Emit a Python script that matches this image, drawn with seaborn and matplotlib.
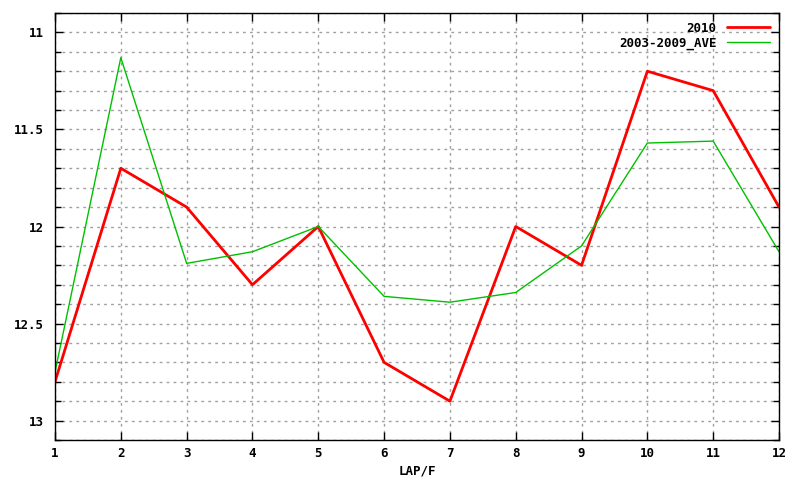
import matplotlib
matplotlib.use("Agg")
import matplotlib.pyplot as plt
from matplotlib.ticker import MultipleLocator
import seaborn as sns
import pandas as pd

laps = [1, 2, 3, 4, 5, 6, 7, 8, 9, 10, 11, 12]
y2010 = [12.8, 11.7, 11.9, 12.3, 12.0, 12.7, 12.9, 12.0, 12.2, 11.2, 11.3, 11.9]
yave = [12.75, 11.13, 12.19, 12.13, 12.0, 12.36, 12.39, 12.34, 12.1, 11.57, 11.56, 12.13]
xticks = [1, 2, 3, 4, 5, 6, 7, 8, 9, 10, 11, 12]
yticks = [11, 11.5, 12, 12.5, 13]
ytick_labels = ["11", "11.5", "12", "12.5", "13"]

sns.set_style("white")
plt.rcParams['font.family'] = ['DejaVu Sans Mono']

fig = plt.figure(figsize=(8, 4.8), dpi=100)
ax = fig.add_axes([55/800, 40/480, (779-55)/800, (440-13)/480])

df = pd.DataFrame({"lap": laps, "2010": y2010, "2003-2009_AVE": yave})
sns.lineplot(data=df, x="lap", y="2010", ax=ax, color="#ff0000", linewidth=2, label="2010")
sns.lineplot(data=df, x="lap", y="2003-2009_AVE", ax=ax, color="#00c000", linewidth=1, label="2003-2009_AVE")

ax.set_xlim(1, 12)
ax.set_ylim(13.1, 10.9)
ax.set_xticks(xticks)
ax.set_xticklabels([str(v) for v in xticks], fontweight="bold", fontsize=9)
ax.set_yticks(yticks)
ax.set_yticklabels(ytick_labels, fontweight="bold", fontsize=9)
ax.yaxis.set_minor_locator(MultipleLocator(0.1))

ax.grid(True, which="major", axis="x", color="#a0a0a0", linestyle=(0, (2, 3)), linewidth=1)
ax.grid(True, which="both", axis="y", color="#a0a0a0", linestyle=(0, (2, 3)), linewidth=1)

ax.tick_params(axis="both", which="both", direction="in", top=True, right=True,
               bottom=True, left=True, width=1, color="black", labelcolor="black")
ax.tick_params(axis="both", which="major", length=6)
ax.tick_params(axis="x", which="major", pad=5)
ax.tick_params(axis="y", which="major", pad=8)
ax.tick_params(axis="y", which="minor", length=4)

for s in ax.spines.values():
    s.set_color("black")
    s.set_linewidth(1)

ax.set_xlabel("LAP/F", fontweight="bold", fontsize=9, labelpad=3, color="black")
ax.set_ylabel("")

leg = ax.legend(loc="upper right", frameon=False, markerfirst=False,
                prop={"weight": "bold", "size": 9}, handlelength=3.5,
                borderaxespad=0.3, labelspacing=0.15)
for t in leg.get_texts():
    t.set_ha("right")
    t.set_color("black")

fig.savefig("out.png", dpi=100)
